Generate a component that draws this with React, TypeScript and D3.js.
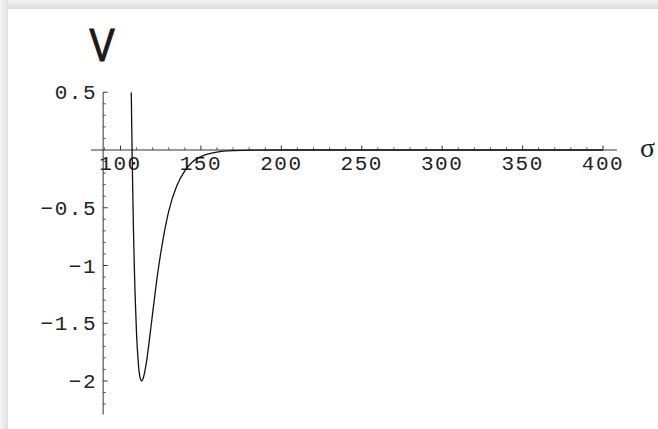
import { useMemo } from 'react'
import * as d3 from 'd3'

const W = 658
const H = 429

// curve samples: sigma, V
const sigmaValues = [
  106.7, 107, 107.5, 108, 108.5, 109, 110, 111, 112, 113.2, 114, 116, 118, 120, 123,
  126, 130, 135, 140, 145, 150, 160, 170, 185, 200, 250, 300, 350, 400,
]
const potentialValues = [
  0.5, 0.19, -0.26, -0.65, -0.96, -1.22, -1.6, -1.83, -1.96, -2.0, -1.98, -1.85, -1.64,
  -1.41, -1.08, -0.81, -0.53, -0.31, -0.18, -0.1, -0.057, -0.018, -0.006, -0.0013, 0, 0,
  0, 0, 0,
]

const xTickValues = [100, 150, 200, 250, 300, 350, 400]
const xTickLabels = ['100', '150', '200', '250', '300', '350', '400']
const yTickValues = [0.5, -0.5, -1, -1.5, -2]
const yTickLabels = ['0.5', '\u22120.5', '\u22121', '\u22121.5', '\u22122']

const X_AXIS_RANGE = [81.7, 408.7]
const Y_AXIS_RANGE = [-2.29, 0.5]
const Y_AXIS_AT = 89.2

const MONO = '"Liberation Mono", "DejaVu Sans Mono", monospace'

export default function App() {
  const x = useMemo(() => d3.scaleLinear().domain([100, 400]).range([120.5, 603]), [])
  const y = useMemo(() => d3.scaleLinear().domain([0, -2]).range([150, 381]), [])

  const pathD = useMemo(() => {
    const pts = sigmaValues.map((s, i) => [s, potentialValues[i]] as [number, number])
    const line = d3
      .line<[number, number]>()
      .x((d) => x(d[0]))
      .y((d) => y(d[1]))
      .curve(d3.curveMonotoneX)
    return line(pts) || ''
  }, [x, y])

  const xMinor = d3.range(90, 401, 10).filter((v) => v % 50 !== 0)
  const yMinor = d3
    .range(-22, 6, 1)
    .map((v) => v / 10)
    .filter((v) => Math.abs((v * 2) % 1) > 1e-6)

  const ax = x(Y_AXIS_AT)
  const ay = y(0)
  const axisColor = '#333'

  return (
    <svg
      width={W}
      height={H}
      style={{ position: 'absolute', left: 0, top: 0, display: 'block' }}
    >
      <defs>
        <linearGradient id="shTop" x1="0" y1="0" x2="0" y2="1">
          <stop offset="0" stopColor="#f3f3f3" />
          <stop offset="1" stopColor="#dadada" />
        </linearGradient>
        <linearGradient id="shLeft" x1="0" y1="0" x2="1" y2="0">
          <stop offset="0" stopColor="#f3f3f3" />
          <stop offset="1" stopColor="#e0e0e0" />
        </linearGradient>
        <clipPath id="plotClip">
          <rect x={0} y={y(0.5)} width={W} height={H} />
        </clipPath>
      </defs>
      <rect x={0} y={0} width={W} height={H} fill="#fff" />
      <rect x={0} y={0} width={W} height={9} fill="url(#shTop)" />
      <rect x={0} y={0} width={8} height={H} fill="url(#shLeft)" />

      {/* x axis */}
      <line x1={x(X_AXIS_RANGE[0])} x2={x(X_AXIS_RANGE[1])} y1={ay} y2={ay} stroke={axisColor} strokeWidth={1} />
      {xTickValues.map((v) => (
        <line key={'xM' + v} x1={x(v)} x2={x(v)} y1={ay} y2={ay - 4.5} stroke={axisColor} strokeWidth={1} />
      ))}
      {xMinor.map((v) => (
        <line key={'xm' + v} x1={x(v)} x2={x(v)} y1={ay} y2={ay - 2.7} stroke={axisColor} strokeWidth={0.8} />
      ))}
      {xTickValues.map((v, i) => (
        <text
          key={'xl' + v}
          x={x(v)}
          y={170}
          textAnchor="middle"
          fontFamily={MONO}
          fontSize={21}
          letterSpacing={1.5}
          fill="#222"
        >
          {xTickLabels[i]}
        </text>
      ))}

      {/* y axis */}
      <line x1={ax} x2={ax} y1={y(Y_AXIS_RANGE[0])} y2={y(Y_AXIS_RANGE[1])} stroke={axisColor} strokeWidth={1} />
      {yTickValues.map((v) => (
        <line key={'yM' + v} x1={ax} x2={ax + 4.5} y1={y(v)} y2={y(v)} stroke={axisColor} strokeWidth={1} />
      ))}
      {yMinor.map((v) => (
        <line key={'ym' + v} x1={ax} x2={ax + 2.7} y1={y(v)} y2={y(v)} stroke={axisColor} strokeWidth={0.8} />
      ))}
      {yTickValues.map((v, i) => (
        <text
          key={'yl' + v}
          x={97}
          y={y(v) + 1.5}
          textAnchor="end"
          dominantBaseline="central"
          fontFamily={MONO}
          fontSize={21}
          letterSpacing={1.5}
          fill="#222"
        >
          {yTickLabels[i]}
        </text>
      ))}

      {/* curve */}
      <path d={pathD} fill="none" stroke="#111" strokeWidth={1.3} clipPath="url(#plotClip)" />

      {/* axis titles */}
      <g transform="translate(102,61) scale(0.8,1)">
        <text
          x={0}
          y={0}
          textAnchor="middle"
          fontFamily='"Liberation Sans", sans-serif'
          fontSize={47}
          fill="#1a1a1a"
          stroke="#1a1a1a"
          strokeWidth={1.2}
        >
          V
        </text>
      </g>
      <text x={640} y={157} fontFamily='"Liberation Serif", serif' fontSize={28} fill="#222">
        σ
      </text>
    </svg>
  )
}
